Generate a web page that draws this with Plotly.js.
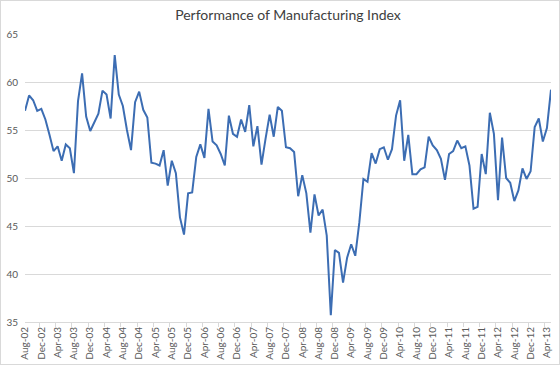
<!DOCTYPE html>
<html>
<head>
<meta charset="utf-8">
<script src="https://cdn.plot.ly/plotly-3.0.1.min.js"></script>
<style>
  html, body { margin: 0; padding: 0; background: #fff; }
  #chart { width: 560px; height: 365px; position: relative; }
  #frame { position: absolute; left: 0; top: 0; width: 558px; height: 363px; border: 1px solid #d9d9d9; pointer-events: none; }
</style>
</head>
<body>
<div id="chart"></div>
<div id="frame"></div>
<script>
// Series start month and month names used for category labels
const startYear = 2002;
const startMonth = 7; // August (0-based)
const monthNames = ["Jan","Feb","Mar","Apr","May","Jun","Jul","Aug","Sep","Oct","Nov","Dec"];

// Monthly index values, Aug-02 .. May-13
const indexValues = [
  57.0, 58.6, 58.1, 57.0, 57.2, 56.1, 54.5, 52.8, 53.3, 51.8,
  53.5, 53.1, 50.5, 58.0, 60.9, 56.4, 54.9, 55.8, 56.7, 59.1,
  58.7, 56.2, 62.8, 58.7, 57.5, 55.0, 52.9, 57.9, 59.0, 57.1,
  56.3, 51.6, 51.5, 51.3, 52.9, 49.2, 51.8, 50.5, 45.9, 44.1,
  48.4, 48.5, 52.2, 53.5, 52.1, 57.2, 53.8, 53.4, 52.5, 51.3,
  56.5, 54.6, 54.3, 56.1, 54.8, 57.6, 53.3, 55.4, 51.4, 54.1,
  56.6, 54.3, 57.4, 57.0, 53.2, 53.1, 52.7, 48.1, 50.3, 48.4,
  44.3, 48.3, 46.1, 46.7, 44.0, 35.7, 42.5, 42.2, 39.1, 41.7,
  43.1, 41.9, 45.4, 49.9, 49.6, 52.6, 51.5, 53.0, 53.2, 51.9,
  53.0, 56.5, 58.1, 51.8, 54.5, 50.4, 50.4, 50.9, 51.1, 54.3,
  53.4, 52.9, 52.0, 49.8, 52.5, 52.8, 53.9, 53.1, 53.3, 51.3,
  46.8, 47.0, 52.5, 50.4, 56.8, 54.6, 47.7, 54.2, 50.0, 49.5,
  47.6, 48.7, 51.0, 49.9, 50.7, 55.3, 56.2, 53.8, 55.2, 59.2
];

// Category labels (Mmm-yy)
const monthLabels = indexValues.map(function (v, i) {
  const m = startMonth + i;
  const y = startYear + Math.floor(m / 12);
  return monthNames[m % 12] + "-" + String(y % 100).padStart(2, "0");
});

const yTickVals = [35, 40, 45, 50, 55, 60, 65];

const trace = {
  x: monthLabels,
  y: indexValues,
  type: "scatter",
  mode: "lines",
  line: { color: "#3c6db3", width: 2 },
  hoverinfo: "x+y"
};

const layout = {
  width: 560,
  height: 365,
  margin: { l: 25, r: 9, t: 34, b: 43 },
  paper_bgcolor: "#ffffff",
  plot_bgcolor: "#ffffff",
  showlegend: false,
  font: { family: "Lato, 'Liberation Sans', sans-serif", size: 10, color: "#595959" },
  title: {
    text: "Performance of Manufacturing Index",
    font: { family: "Lato, 'Liberation Sans', sans-serif", size: 14, color: "#404040" },
    x: 0.5, xanchor: "center", xref: "paper",
    y: 1 - 15 / 365, yref: "container", yanchor: "middle"
  },
  xaxis: {
    type: "category",
    tickmode: "linear",
    tick0: 0,
    dtick: 4,
    tickangle: -90,
    ticks: "outside",
    tickson: "boundaries",
    ticklen: 4,
    tickcolor: "#d9d9d9",
    showline: true,
    linecolor: "#d9d9d9",
    linewidth: 1,
    showgrid: false,
    zeroline: false,
    tickfont: { size: 10, color: "#595959" },
    fixedrange: true
  },
  yaxis: {
    range: [35, 65],
    tickmode: "array",
    tickvals: yTickVals,
    ticktext: yTickVals.map(String),
    showgrid: true,
    gridcolor: "#d9d9d9",
    gridwidth: 1,
    zeroline: false,
    showline: false,
    ticks: "",
    ticklabelstandoff: 6,
    tickfont: { size: 10, color: "#595959" },
    fixedrange: true
  }
};

Plotly.newPlot("chart", [trace], layout, { displayModeBar: false, staticPlot: true });
</script>
</body>
</html>
